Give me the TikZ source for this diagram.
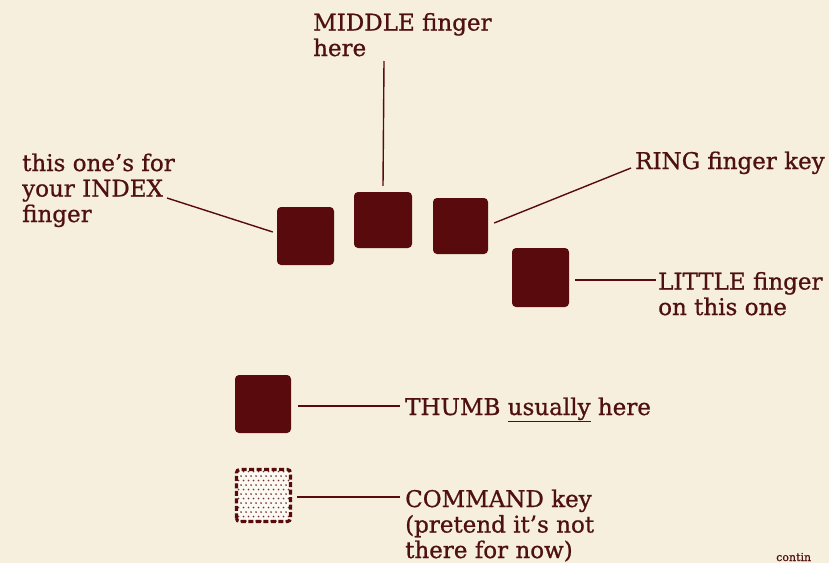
\documentclass[tikz,border=0pt]{standalone}
\usepackage{fontspec}
\setmainfont[FakeBold=0.8]{DejaVu Serif}
\usepackage{tikz}
\usetikzlibrary{positioning,calc}
\definecolor{paper}{RGB}{246,239,221}
\definecolor{keyc}{RGB}{88,10,12}
\definecolor{inkc}{RGB}{78,16,16}
\newcommand{\lblfont}{\fontsize{23}{25.5}\selectfont\setlength{\lineskiplimit}{-50pt}}

\begin{document}
\begin{tikzpicture}[x=1pt,y=-1pt,
  every node/.style={font=\lblfont, text=inkc},
  fingerkey/.style={fill=keyc, rounded corners=4pt, inner sep=0pt},
  lead/.style={draw=keyc, line width=1.4pt},
  lbl/.style={anchor=base west, align=left, inner sep=0pt}]
  \fill[paper] (0,0) rectangle (829,563);
  \useasboundingbox (0,0) rectangle (829,563);
  % home row keys
  \node[fingerkey, minimum width=57pt, minimum height=58pt] (index)  at (305.5,236) {};
  \node[fingerkey, minimum width=58pt, minimum height=56pt] (middle) at (383,220) {};
  \node[fingerkey, minimum width=55pt, minimum height=56pt] (ring)   at (460.5,226) {};
  \node[fingerkey, minimum width=57pt, minimum height=59pt] (little) at (540.5,277.5) {};
  \node[lbl] (midlbl)  at (313,56)  {MIDDLE finger\\here};
  \node[lbl] (idxlbl)  at (22,222)  {this one's for\\your INDEX\\finger};
  \node[lbl] (ringlbl) at (635,169) {RING finger key};
  \node[lbl] (litlbl)  at (658,315) {LITTLE finger\\on this one};
  \coordinate (midtip)  at (384,61);
  \coordinate (idxtip)  at (167,198);
  \coordinate (ringtip) at (631,168);
  \coordinate (littip)  at (656,280);
  \draw[lead] ([yshift=6pt]middle.north) -- (midtip);
  \draw[lead] ([xshift=-4pt,yshift=4pt]index.west) -- (idxtip);
  \draw[lead] ([xshift=6pt,yshift=3pt]ring.east) -- (ringtip);
  \draw[lead] ([xshift=6pt,yshift=-2.5pt]little.east) -- (littip);
  % thumb and command
  \node[fingerkey, minimum width=56pt, minimum height=58pt] (thumb) at (263,404) {};
  \node[inner sep=0pt, minimum width=53.5pt, minimum height=51.5pt, rounded corners=3pt,
        fill=white!60!paper] (command) at (263.5,495.5) {};
  \begin{scope}
    \clip (command.south west) rectangle (command.north east);
    \foreach \i in {0,...,11} {
      \foreach \j [evaluate=\j as \off using {mod(\j,2)*2.5}] in {0,...,11} {
        \fill[keyc!85] ($(command.north west)+(2+\i*5+\off,2+\j*4.5)$) circle (0.9pt);
      }
    }
  \end{scope}
  \draw[keyc, line width=3.2pt, dash pattern=on 5pt off 2.5pt, rounded corners=3pt]
    (command.south west) rectangle (command.north east);
  \node[lbl] (thumblbl) at (405,415) {THUMB \underline{usually} here};
  \node[lbl] (cmdlbl)   at (405,558) {COMMAND key\\(pretend it's not\\there for now)};
  \coordinate (thumbtip) at (400,406);
  \coordinate (cmdtip)   at (400,497);
  \draw[lead] ([xshift=7pt,yshift=-2pt]thumb.east) -- (thumbtip);
  \draw[lead] ([xshift=7pt,yshift=-1.5pt]command.east) -- (cmdtip);
  \node[anchor=base west, inner sep=0pt, font=\fontsize{11}{12}\selectfont] (contlbl) at (776,561) {contin};
\end{tikzpicture}
\end{document}
